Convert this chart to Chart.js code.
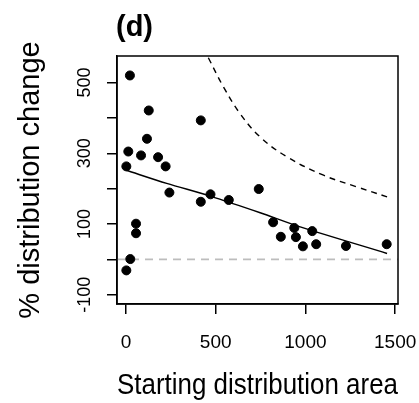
<!DOCTYPE html>
<html>
<head>
<meta charset="utf-8">
<script src="https://cdn.jsdelivr.net/npm/chart.js@4/dist/chart.umd.min.js"></script>
<style>
  html, body { margin: 0; padding: 0; background: #fff; }
  #wrap { width: 419px; height: 403px; }
</style>
</head>
<body>
<div id="wrap"><canvas id="chart-area" width="419" height="403"></canvas></div>
<script>
// observed points
var areaX = [22, 127, 417, 117, 13, 84, 179, 2, 221, 242, 417, 471, 573, 740, 56, 56, 24, 2, 820, 863, 938, 947, 986, 1038, 1060, 1226, 1453];
var changeY = [520, 421, 393, 341, 305, 294, 289, 263, 263, 189, 163, 184, 168, 199, 101, 74, 1, -31, 105, 64, 89, 63, 37, 80, 43, 38, 43];

// fitted line (solid)
var fitX = [2, 227, 469, 748, 971, 1455];
var fitY = [252, 215, 179, 132, 92, 17];

// upper curve (dashed)
var boundX = [459, 543, 636, 748, 897, 1101, 1287, 1455];
var boundY = [570, 488, 412, 346, 290, 238, 205, 177];

// axes
var xRange = [-50, 1516];
var yRange = [-126, 575];
var xTicks = [0, 500, 1000, 1500];
var yTicks = [-100, 0, 100, 200, 300, 400, 500];
var yTickLabels = [-100, 100, 300, 500];
var zeroLevel = 0;

function pairs(xs, ys) {
    return xs.map(function(x, i) { return { x: x, y: ys[i] }; });
}

var font = "'Liberation Sans', Arial, sans-serif";

var boxPlugin = {
    id: 'box',
    afterDraw: function(chart) {
        var ctx = chart.ctx, a = chart.chartArea;
        ctx.save();
        ctx.strokeStyle = '#000';
        ctx.lineWidth = 1.5;
        ctx.strokeRect(a.left, a.top, a.right - a.left, a.bottom - a.top);
        ctx.fillStyle = '#000';
        ctx.font = 'bold 29px ' + font;
        ctx.textBaseline = 'alphabetic';
        ctx.fillText('(d)', 116, 36);
        ctx.restore();
    }
};

var config = {
    type: 'scatter',
    data: {
        datasets: [{
            label: 'points',
            data: pairs(areaX, changeY),
            backgroundColor: '#000',
            borderColor: '#000',
            pointRadius: 4.5,
            pointHoverRadius: 4.5,
            order: 1
        }, {
            label: 'fit',
            data: pairs(fitX, fitY),
            showLine: true,
            borderColor: '#000',
            borderWidth: 1.5,
            pointRadius: 0,
            tension: 0.3,
            order: 0
        }, {
            label: 'bound',
            data: pairs(boundX, boundY),
            showLine: true,
            borderColor: '#000',
            borderWidth: 1.4,
            borderDash: [6, 5],
            pointRadius: 0,
            tension: 0.4,
            order: 0
        }, {
            label: 'zero',
            data: pairs(xRange, [zeroLevel, zeroLevel]),
            showLine: true,
            borderColor: '#bdbdbd',
            borderWidth: 1.6,
            borderDash: [8, 6],
            pointRadius: 0,
            order: 2
        }]
    },
    options: {
        responsive: false,
        animation: false,
        events: [],
        layout: { padding: { top: 56, right: 21, left: 0, bottom: 0 } },
        plugins: {
            legend: { display: false },
            tooltip: { enabled: false }
        },
        scales: {
            x: {
                type: 'linear',
                min: xRange[0],
                max: xRange[1],
                afterBuildTicks: function(s) { s.ticks = xTicks.map(function(v) { return { value: v }; }); },
                afterFit: function(s) { s.height = 99; s.paddingLeft = 0; s.paddingRight = 0; },
                border: { display: true, color: '#000', width: 1.5 },
                grid: { drawOnChartArea: false, drawTicks: true, tickLength: 10, color: '#000', lineWidth: 1.5 },
                ticks: {
                    autoSkip: false,
                    maxRotation: 0,
                    padding: 17,
                    color: '#000',
                    font: { family: font, size: 19 },
                    callback: function(v) { return String(v); }
                },
                title: {
                    display: true,
                    text: 'Starting distribution area',
                    color: '#000',
                    font: { family: font, size: 29 },
                    padding: { top: 0, bottom: 0 }
                }
            },
            y: {
                type: 'linear',
                min: yRange[0],
                max: yRange[1],
                afterBuildTicks: function(s) { s.ticks = yTicks.map(function(v) { return { value: v }; }); },
                afterFit: function(s) { s.width = 117; s.paddingTop = 0; s.paddingBottom = 0; },
                border: { display: true, color: '#000', width: 1.5 },
                grid: { drawOnChartArea: false, drawTicks: true, tickLength: 10, color: '#000', lineWidth: 1.5 },
                ticks: {
                    autoSkip: false,
                    minRotation: 90,
                    maxRotation: 90,
                    crossAlign: 'center',
                    padding: 4,
                    color: '#000',
                    font: { family: font, size: 18 },
                    callback: function(v) { return yTickLabels.indexOf(v) >= 0 ? String(v) : ''; }
                },
                title: {
                    display: true,
                    text: '% distribution change',
                    color: '#000',
                    font: { family: font, size: 29 },
                    padding: { top: 14, bottom: 0 }
                }
            }
        }
    },
    plugins: [boxPlugin]
};

window.onload = function() {
    var ctx = document.getElementById('chart-area').getContext('2d');
    window.myChart = new Chart(ctx, config);
};
</script>
</body>
</html>
